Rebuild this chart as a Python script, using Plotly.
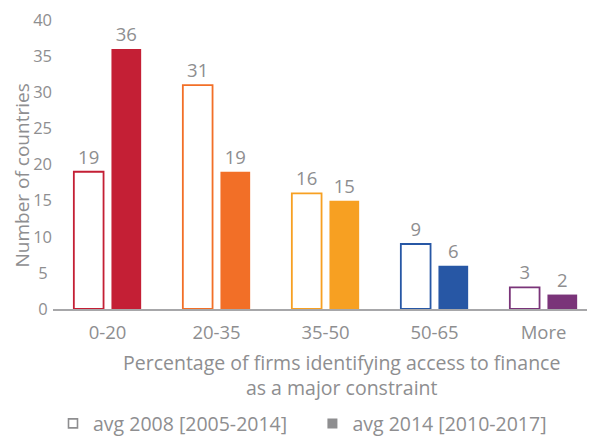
import plotly.graph_objects as go

categories = ["0-20", "20-35", "35-50", "50-65", "More"]
avg_2008 = [19, 31, 16, 9, 3]
avg_2014 = [36, 19, 15, 6, 2]
category_colors = ["#c41f35", "#f26f27", "#f7a022", "#2757a5", "#7a3479"]
y_ticks = [0, 5, 10, 15, 20, 25, 30, 35, 40]
series_names = ["avg 2008 [2005-2014]", "avg 2014 [2010-2017]"]

FONT = "Open Sans"
GRAY = "#8e8e90"

# reference centres its y tick labels: pad single-digit labels with a half-width space
y_ticktext = [f"{v}\u2008" if v < 10 else f"{v}" for v in y_ticks]

fig = go.Figure()
fig.add_trace(go.Bar(
    x=categories, y=avg_2008, name=series_names[0], showlegend=False,
    marker=dict(color="white", line=dict(color=category_colors, width=1.8)),
    texttemplate="%{y}", textposition="outside", cliponaxis=False,
    textfont=dict(family=FONT, size=18.5, color=GRAY),
))
fig.add_trace(go.Bar(
    x=categories, y=avg_2014, name=series_names[1], showlegend=False,
    marker=dict(color=category_colors, line=dict(width=0)),
    texttemplate="%{y}", textposition="outside", cliponaxis=False,
    textfont=dict(family=FONT, size=18.5, color=GRAY),
))
# legend entries (gray swatches)
fig.add_trace(go.Scatter(
    x=[None], y=[None], mode="markers", name=series_names[0], legend="legend",
    marker=dict(symbol="square-open", size=9, color="#8e8e90", line=dict(width=1.6)),
))
fig.add_trace(go.Scatter(
    x=[None], y=[None], mode="markers", name=series_names[1], legend="legend2",
    marker=dict(symbol="square", size=10, color="#8e8e90"),
))

fig.update_layout(
    width=590, height=428,
    margin=dict(l=45, r=0, t=12, b=127, autoexpand=False),
    paper_bgcolor="white", plot_bgcolor="white",
    barmode="group", bargap=0.31, bargroupgap=0.21,
    font=dict(family=FONT, size=16, color=GRAY),
    legend=dict(x=0.0, y=-0.397, xanchor="left", yanchor="middle",
                font=dict(family=FONT, size=19.5, color=GRAY), bgcolor="rgba(0,0,0,0)"),
    legend2=dict(x=0.476, y=-0.397, xanchor="left", yanchor="middle",
                 font=dict(family=FONT, size=19.5, color=GRAY), bgcolor="rgba(0,0,0,0)"),
    xaxis=dict(showline=True, linecolor="#a7a7a9", linewidth=1.5, ticks="",
               showgrid=False, ticklabelstandoff=6,
               tickfont=dict(family=FONT, size=18.5, color=GRAY)),
    yaxis=dict(range=[0, 40], tickvals=y_ticks, ticktext=y_ticktext, showgrid=False,
               zeroline=False, showline=False, ticks="", ticklen=0, ticklabelstandoff=0,
               ticklabeloverflow="allow",
               tickfont=dict(family=FONT, size=16.5, color=GRAY)),
    annotations=[
        dict(text="Number of countries", xref="paper", yref="paper", x=0, y=0.462,
             xshift=-31, textangle=-90, showarrow=False,
             font=dict(family=FONT, size=19, color=GRAY), xanchor="center", yanchor="middle"),
        dict(text="Percentage of firms identifying access to finance<br>as a major constraint",
             xref="paper", yref="paper", x=0.53, y=0, yshift=-38, showarrow=False,
             xanchor="center", yanchor="top", align="center",
             font=dict(family=FONT, size=19.5, color=GRAY)),
    ],
)

fig.write_html("out.html")
